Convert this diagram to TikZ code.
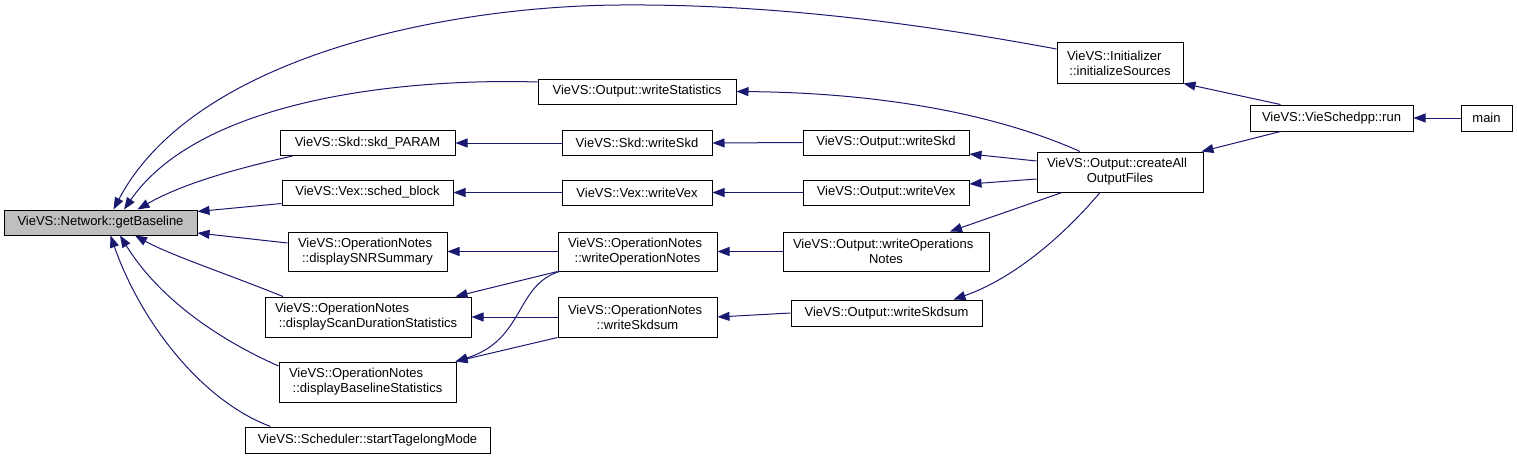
\documentclass[tikz,border=0pt]{standalone}
\usepackage{fontspec}
\setmainfont{Liberation Sans}
\usetikzlibrary{arrows.meta}
\definecolor{edgeblue}{HTML}{191970}
\definecolor{curfill}{HTML}{BFBFBF}
\newcommand{\firstl}[1]{#1\hfill\null}
\tikzset{
  fn/.style={draw=black, line width=1pt, fill=white, align=center, inner xsep=10pt, inner ysep=2pt, font=\fontsize{13}{15}\selectfont},
  call/.style={draw=edgeblue, line width=1pt, -{Triangle[length=12pt,width=9pt]}},
}
\begin{document}
\begin{tikzpicture}[x=1pt,y=-1pt]
\useasboundingbox (0,0) rectangle (1517,460);
\node[fn, fill=curfill, text width=173pt, minimum height=25pt] (gb) at (100.5,222.5) {VieVS::Network::getBaseline};
\node[fn, text width=106pt, minimum height=40pt] (init) at (1120,63) {\firstl{VieVS::Initializer}\\::initializeSources};
\node[fn, text width=178pt, minimum height=25pt] (wstat) at (637,91.5) {VieVS::Output::writeStatistics};
\node[fn, text width=155pt, minimum height=25pt] (skdp) at (367.5,143) {VieVS::Skd::skd\_PARAM};
\node[fn, text width=130pt, minimum height=25pt] (skdw) at (637,143) {VieVS::Skd::writeSkd};
\node[fn, text width=146pt, minimum height=25pt] (owskd) at (886,142.5) {VieVS::Output::writeSkd};
\node[fn, text width=146pt, minimum height=40pt] (caof) at (1120,172) {\firstl{VieVS::Output::createAll}\\OutputFiles};
\node[fn, text width=151pt, minimum height=25pt] (sched) at (367.5,192.5) {VieVS::Vex::sched\_block};
\node[fn, text width=130pt, minimum height=25pt] (vexw) at (637,192.5) {VieVS::Vex::writeVex};
\node[fn, text width=146pt, minimum height=25pt] (owvex) at (886,192.5) {VieVS::Output::writeVex};
\node[fn, text width=139pt, minimum height=39pt] (snr) at (367.5,251.5) {\firstl{VieVS::OperationNotes}\\::displaySNRSummary};
\node[fn, text width=139pt, minimum height=39pt] (wopn) at (637.5,251.5) {\firstl{VieVS::OperationNotes}\\::writeOperationNotes};
\node[fn, text width=186pt, minimum height=40pt] (dscan) at (368,317) {\firstl{VieVS::OperationNotes}\\::displayScanDurationStatistics};
\node[fn, text width=139pt, minimum height=40pt] (wskdsum) at (637.5,317) {\firstl{VieVS::OperationNotes}\\::writeSkdsum};
\node[fn, text width=157pt, minimum height=40pt] (dbase) at (367.5,382) {\firstl{VieVS::OperationNotes}\\::displayBaselineStatistics};
\node[fn, text width=225pt, minimum height=26pt] (tage) at (367.5,440) {VieVS::Scheduler::startTagelongMode};
\node[fn, text width=186pt, minimum height=39pt] (owopn) at (886,251.5) {\firstl{VieVS::Output::writeOperations}\\Notes};
\node[fn, text width=171pt, minimum height=26pt] (owskdsum) at (886.5,313) {VieVS::Output::writeSkdsum};
\node[fn, text width=143pt, minimum height=26pt] (run) at (1331.5,118) {VieVS::VieSchedpp::run};
\node[fn, text width=31pt, minimum height=26pt] (main) at (1486.5,118) {main};
\draw[call] ([yshift=14pt]init.west) .. controls (900,20) and (760,4) .. (620,5) .. controls (450,6) and (195,55) .. ([xshift=13pt]gb.north);
\draw[call] ([yshift=9.5pt]wstat.west) .. controls (400,78) and (200,100) .. ([xshift=23.5pt]gb.north);
\draw[call] ([xshift=13pt]skdp.south west) .. controls (230,170) and (180,185) .. ([xshift=37pt]gb.north);
\draw[call] ([yshift=-11pt]sched.west) -- ([yshift=11pt]gb.east);
\draw[call] ([yshift=8.5pt]snr.west) -- ([yshift=-10.5pt]gb.east);
\draw[call] ([xshift=-85pt]dscan.north) .. controls (230,275) and (170,255) .. ([xshift=34.5pt]gb.south);
\draw[call] ([yshift=16pt]dbase.west) .. controls (220,340) and (160,300) .. ([xshift=19.5pt]gb.south);
\draw[call] ([xshift=-97pt]tage.north) .. controls (200,400) and (140,320) .. ([xshift=10pt]gb.south);
\draw[call] (skdw.west) -- (skdp.east);
\draw[call] (owskd.west) -- (skdw.east);
\draw[call] ([yshift=11pt]caof.west) -- ([yshift=-11.5pt]owskd.east);
\draw[call] (vexw.west) -- (sched.east);
\draw[call] (owvex.west) -- (vexw.east);
\draw[call] ([yshift=-7pt]caof.west) -- ([yshift=8.5pt]owvex.east);
\draw[call] ([xshift=-40pt]caof.north) .. controls (1010,120) and (900,93) .. (wstat.east);
\draw[call] (wopn.west) -- (snr.east);
\draw[call] (wopn.south west) -- ([xshift=-16pt]dscan.north east);
\draw[call] ([xshift=2pt]wopn.south west) .. controls (515,285) and (525,340) .. ([xshift=-1pt]dbase.north east);
\draw[call] (owopn.west) -- (wopn.east);
\draw[call] (wskdsum.west) -- (dscan.east);
\draw[call] (wskdsum.south west) -- ([xshift=-1pt]dbase.north east);
\draw[call] (owskdsum.west) -- (wskdsum.east);
\draw[call] ([xshift=-58pt]caof.south) -- ([xshift=64pt]owopn.north);
\draw[call] ([xshift=-20pt]caof.south) .. controls (1060,240) and (1010,280) .. ([xshift=67pt]owskdsum.north);
\draw[call] ([xshift=-51pt]run.south) -- ([xshift=-2pt]caof.north east);
\draw[call] ([xshift=-51pt]run.north) -- (init.south east);
\draw[call] (main.west) -- (run.east);
\end{tikzpicture}
\end{document}
